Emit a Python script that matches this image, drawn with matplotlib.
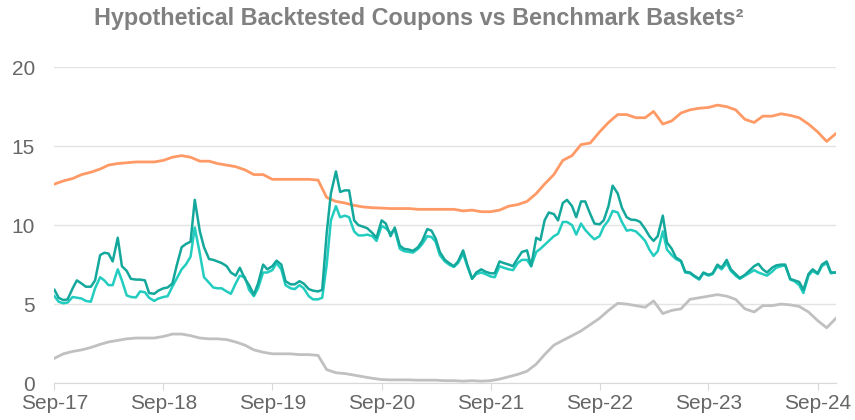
import numpy as np
import pandas as pd
import matplotlib
matplotlib.use("Agg")
import matplotlib.pyplot as plt
import matplotlib.dates as mdates

plt.rcParams['font.family'] = ['Liberation Sans', 'DejaVu Sans']

# monthly benchmark baskets, Sep-17 .. Nov-24
monthly_dates = pd.date_range('2017-09-01', '2024-11-01', freq='MS')

orange = [12.6, 12.8, 12.95, 13.2, 13.35, 13.55, 13.8, 13.9, 13.95, 14.0,
          14.0, 14.0, 14.1, 14.3, 14.4, 14.3, 14.05, 14.05, 13.9, 13.8,
          13.7, 13.5, 13.2, 13.2, 12.9, 12.9, 12.9, 12.9, 12.9, 12.85,
          11.75, 11.5, 11.4, 11.25, 11.15, 11.1, 11.08, 11.05, 11.05, 11.05,
          11.0, 11.0, 11.0, 11.0, 11.0, 10.9, 10.95, 10.85, 10.85, 10.95,
          11.2, 11.3, 11.5, 12.0, 12.6, 13.2, 14.1, 14.4, 15.1, 15.2,
          15.9, 16.5, 17.0, 17.0, 16.8, 16.8, 17.2, 16.4, 16.6, 17.1,
          17.3, 17.4, 17.45, 17.6, 17.5, 17.3, 16.7, 16.5, 16.9, 16.9,
          17.05, 16.95, 16.8, 16.4, 15.9, 15.3, 15.8]

grey = [1.57, 1.85, 2.0, 2.1, 2.25, 2.45, 2.6, 2.7, 2.8, 2.85,
        2.85, 2.85, 2.95, 3.1, 3.1, 3.0, 2.85, 2.8, 2.8, 2.75,
        2.6, 2.4, 2.1, 1.95, 1.85, 1.85, 1.85, 1.8, 1.8, 1.75,
        0.85, 0.65, 0.6, 0.5, 0.4, 0.3, 0.22, 0.2, 0.2, 0.2,
        0.18, 0.18, 0.18, 0.15, 0.15, 0.12, 0.15, 0.12, 0.15, 0.25,
        0.4, 0.55, 0.75, 1.2, 1.8, 2.4, 2.7, 3.0, 3.3, 3.7,
        4.1, 4.6, 5.05, 5.0, 4.9, 4.8, 5.2, 4.4, 4.6, 4.7,
        5.3, 5.4, 5.5, 5.6, 5.5, 5.3, 4.7, 4.5, 4.9, 4.9,
        5.0, 4.95, 4.85, 4.5, 3.95, 3.5, 4.1]

# semi-monthly hypothetical backtested coupons
semi_dates = pd.date_range('2017-09-01', '2024-11-01', freq='SMS')

coupon_a = [5.9, 5.4, 5.25, 5.3, 6.0, 6.5, 6.3, 6.1, 6.1, 6.5,
            8.1, 8.25, 8.2, 7.7, 9.2, 7.4, 7.1, 6.6, 6.55, 6.55,
            6.5, 5.7, 5.65, 5.85, 6.0, 6.05, 6.3, 7.4, 8.6, 8.8,
            8.95, 11.6, 9.6, 8.6, 7.85, 7.8, 7.7, 7.6, 7.4, 7.0,
            6.8, 7.3, 6.6, 6.2, 5.6, 6.3, 7.5, 7.2, 7.4, 7.75,
            7.5, 6.45, 6.25, 6.25, 6.45, 6.3, 5.95, 5.85, 5.8, 5.9,
            9.5, 12.0, 13.4, 12.1, 12.2, 12.2, 10.3, 10.0, 9.9, 9.8,
            9.5, 9.2, 10.3, 10.1, 9.3, 9.85, 8.7, 8.5, 8.45, 8.37,
            8.6, 9.0, 9.75, 9.65, 9.15, 8.3, 7.8, 7.6, 7.4, 7.7,
            8.4, 7.5, 6.6, 7.0, 7.2, 7.05, 6.95, 6.95, 7.7, 7.6,
            7.5, 7.4, 7.9, 8.3, 8.4, 7.4, 9.2, 9.05, 10.3, 10.8,
            10.7, 10.3, 11.4, 11.6, 11.2, 10.5, 11.5, 11.5, 10.7, 10.1,
            10.05, 10.3, 11.2, 12.5, 12.0, 11.1, 10.5, 10.35, 10.32, 10.2,
            9.75, 9.3, 9.0, 9.3, 10.6, 8.9, 8.5, 7.95, 7.74, 7.05,
            7.0, 6.8, 6.6, 7.0, 6.85, 6.95, 7.5, 7.3, 7.8, 7.2,
            6.9, 6.65, 6.85, 7.1, 7.4, 7.55, 7.2, 7.0, 7.3, 7.45,
            7.5, 7.5, 6.6, 6.5, 6.4, 5.9, 6.9, 7.2, 6.95, 7.5,
            7.7, 7.0, 7.0]

coupon_b = [5.5, 5.15, 5.05, 5.1, 5.45, 5.4, 5.35, 5.2, 5.15, 6.0,
            6.7, 6.5, 6.2, 6.2, 7.2, 6.5, 5.55, 5.45, 5.42, 5.8,
            5.75, 5.4, 5.2, 5.35, 5.45, 5.5, 6.1, 6.6, 7.2, 7.5,
            8.0, 9.85, 8.2, 6.7, 6.35, 6.05, 6.0, 6.0, 5.8, 5.65,
            6.3, 6.8, 6.7, 5.9, 5.5, 6.0, 7.0, 7.0, 7.15, 7.6,
            7.2, 6.2, 6.0, 5.95, 6.2, 6.0, 5.5, 5.3, 5.3, 5.4,
            7.5, 10.3, 11.2, 10.5, 10.6, 10.5, 9.6, 9.35, 9.35, 9.4,
            9.3, 9.0, 9.95, 9.8, 9.5, 9.7, 8.5, 8.35, 8.3, 8.26,
            8.5, 8.8, 9.3, 9.25, 8.95, 8.1, 7.7, 7.5, 7.35, 7.6,
            8.2, 7.4, 6.6, 6.9, 7.0, 6.9, 6.75, 6.7, 7.4, 7.3,
            7.2, 7.15, 7.6, 7.8, 7.8, 7.4, 8.3, 8.5, 8.75, 9.0,
            9.3, 9.45, 10.2, 10.2, 10.0, 9.4, 10.1, 9.7, 9.35, 9.1,
            9.3, 9.9, 10.3, 10.9, 10.8, 10.2, 9.65, 9.7, 9.6, 9.35,
            9.0, 8.45, 8.05, 8.35, 9.6, 8.45, 8.1, 7.85, 7.7, 7.0,
            6.95, 6.75, 6.55, 6.95, 6.8, 6.9, 7.4, 7.2, 7.6, 7.1,
            6.8, 6.6, 6.8, 6.95, 7.15, 7.0, 6.9, 6.8, 7.05, 7.3,
            7.4, 7.45, 6.55, 6.45, 6.2, 5.7, 6.8, 7.1, 6.9, 7.4,
            7.6, 6.95, 7.0]

fig = plt.figure(figsize=(8.55, 4.2), dpi=100)
ax = fig.add_axes([0.0637, 0.088, 0.914, 0.752])

ax.plot(monthly_dates, orange, color='#ff9a66', lw=2.0, solid_joinstyle='round')
ax.plot(semi_dates, coupon_b, color='#22cdc0', lw=1.8, solid_joinstyle='round')
ax.plot(semi_dates, coupon_a, color='#14a89c', lw=1.8, solid_joinstyle='round')
ax.plot(monthly_dates, grey, color='#c0c0c0', lw=2.0, solid_joinstyle='round')

ax.set_ylim(0, 20)
ax.set_yticks([0, 5, 10, 15, 20])
ax.set_xlim(monthly_dates[0], monthly_dates[-1])
ax.xaxis.set_major_locator(mdates.MonthLocator(bymonth=9))
ax.xaxis.set_major_formatter(mdates.DateFormatter('%b-%y'))

ax.grid(axis='y', color='#e3e3e3', lw=1.0)
ax.set_axisbelow(True)
for s in ['top', 'right', 'left']:
    ax.spines[s].set_visible(False)
ax.spines['bottom'].set_color('#d9d9d9')
ax.tick_params(axis='y', length=0, labelsize=15, labelcolor='#666666', pad=14)
ax.tick_params(axis='x', length=5, color='#d9d9d9', labelsize=15,
               labelcolor='#666666', pad=3)

fig.text(0.49, 0.955, 'Hypothetical Backtested Coupons vs Benchmark Baskets²',
         ha='center', va='center', fontsize=16.8, fontweight='bold', color='#808080')

fig.savefig('out.png', dpi=100)
